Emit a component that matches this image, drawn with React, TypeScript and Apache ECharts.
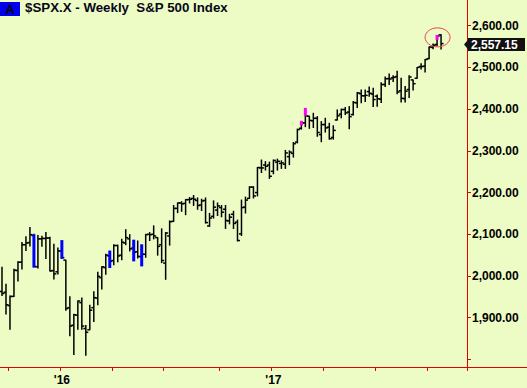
import React, { useEffect, useRef } from "react";
import * as echarts from "echarts";

// Weekly OHLC, week of 2015-09-14 .. week of 2017-10-23
const opens = [
  1963, 1961, 1929, 1951, 2013, 2033, 2075, 2080, 2097, 2022, 2089, 2090, 2091, 2013, 2010, 2060,
  2038, 1924, 1882, 1906, 1936, 1874, 1871, 1924, 1947, 1996, 2020, 2048, 2037, 2073, 2050, 2079,
  2089, 2067, 2058, 2046, 2052, 2100, 2100, 2092, 2075, 2031, 2096, 2131, 2162, 2175, 2174, 2183,
  2186, 2181, 2170, 2181, 2120, 2143, 2158, 2164, 2160, 2132, 2148, 2129, 2101, 2165, 2186, 2213,
  2200, 2259, 2266, 2266,
  2251, 2273, 2270, 2268, 2286, 2294, 2321, 2354, 2367, 2383, 2372, 2378, 2339, 2363, 2357, 2332,
  2374, 2388, 2399, 2393, 2387, 2415, 2437, 2432, 2442, 2436, 2431, 2424, 2459, 2473, 2475, 2478,
  2444, 2425, 2447, 2470, 2474, 2502, 2503, 2521, 2548, 2555, 2578,
];
const highs = [
  2021, 1980, 1952, 2016, 2034, 2080, 2094, 2116, 2100, 2097, 2095, 2104, 2093, 2076, 2067, 2081,
  2038, 1950, 1908, 1940, 1947, 1881, 1930, 1962, 2009, 2022, 2052, 2056, 2075, 2074, 2088, 2111,
  2099, 2084, 2084, 2064, 2100, 2104, 2120, 2092, 2113, 2104, 2132, 2169, 2175, 2178, 2183, 2188,
  2193, 2187, 2184, 2187, 2150, 2180, 2175, 2169, 2169, 2148, 2155, 2134, 2182, 2189, 2214, 2214,
  2260, 2278, 2274, 2273,
  2278, 2280, 2276, 2301, 2300, 2320, 2352, 2367, 2401, 2383, 2390, 2382, 2370, 2378, 2366, 2360,
  2398, 2400, 2404, 2406, 2418, 2440, 2446, 2446, 2453, 2450, 2434, 2463, 2477, 2484, 2480, 2491,
  2474, 2454, 2480, 2470, 2500, 2509, 2519, 2549, 2556, 2576, 2578,
];
const lows = [
  1953, 1909, 1872, 1951, 1988, 2017, 2061, 2072, 2022, 2019, 2071, 2042, 2012, 1993, 2005, 2043,
  1918, 1857, 1812, 1872, 1872, 1810, 1871, 1891, 1931, 1969, 2004, 2022, 2027, 2034, 2039, 2075,
  2060, 2039, 2043, 2025, 2045, 2085, 2089, 2050, 2032, 1992, 2074, 2131, 2152, 2155, 2147, 2175,
  2169, 2160, 2157, 2127, 2119, 2139, 2145, 2142, 2114, 2125, 2114, 2084, 2097, 2151, 2186, 2187,
  2192, 2248, 2254, 2234,
  2245, 2254, 2258, 2258, 2267, 2285, 2319, 2352, 2358, 2354, 2356, 2335, 2322, 2345, 2328, 2328,
  2374, 2379, 2387, 2353, 2386, 2404, 2415, 2418, 2431, 2406, 2407, 2416, 2454, 2459, 2466, 2437,
  2417, 2417, 2428, 2446, 2474, 2496, 2489, 2521, 2545, 2552, 2544,
];
const closes = [
  1958, 1931, 1951, 2014, 2033, 2075, 2079, 2099, 2023, 2089, 2090, 2091, 2012, 2005, 2060, 2044,
  1922, 1880, 1907, 1940, 1880, 1865, 1918, 1948, 1999, 2022, 2050, 2035, 2073, 2048, 2081, 2092,
  2065, 2057, 2047, 2052, 2099, 2099, 2096, 2071, 2037, 2103, 2130, 2162, 2175, 2173, 2183, 2184,
  2184, 2169, 2180, 2128, 2139, 2165, 2168, 2153, 2133, 2141, 2126, 2085, 2164, 2182, 2213, 2192,
  2260, 2259, 2263, 2239,
  2277, 2275, 2271, 2295, 2297, 2317, 2351, 2367, 2384, 2373, 2378, 2344, 2363, 2355, 2329, 2349,
  2384, 2399, 2391, 2382, 2416, 2439, 2432, 2433, 2438, 2423, 2425, 2459, 2473, 2472, 2476, 2441,
  2426, 2443, 2477, 2461, 2500, 2502, 2519, 2549, 2553, 2575, 2557.15,
];

// highlighted (signal) bars
const hlIdx = [8, 15, 27, 33, 35, 75, 76, 109];
const hlTop = [2100, 2086, 2061, 2087, 2076, 2372, 2403, 2578];
const hlBottom = [2020, 2041, 2019, 2035, 2023, 2361, 2384, 2566];
const hlColor = ["#0000FF", "#0000FF", "#0000FF", "#0000FF", "#0000FF", "#FF00FF", "#FF00FF", "#FF00FF"];

const padWeeks = 6;
const startDay = Date.UTC(2015, 8, 14);
const categories = Array.from({ length: opens.length + padWeeks }, (_, i) =>
  new Date(startDay + i * 7 * 86400000).toISOString().slice(0, 10)
);
const xTickIdx = [2, 15, 28, 41, 55, 68, 81, 94, 107];
const xLabelIdx = [15, 68];
const xLabelText = ["'16", "'17"];
const yTickVals = [1800, 1900, 2000, 2100, 2200, 2300, 2400, 2500, 2600];
const yLabelVals = [1900, 2000, 2100, 2200, 2300, 2400, 2500, 2600];
const lastPrice = 2557.15;
const circleCenter = [109, 2572];

const RED = "#E00000";
const BG = "#EDFCC5";
const FONT = "'Liberation Sans', Arial, sans-serif";

const fmt = (v: number) => {
  const [a, b] = v.toFixed(2).split(".");
  return a.replace(/\B(?=(\d{3})+(?!\d))/g, ",") + "." + b;
};

export default function App() {
  const ref = useRef<HTMLDivElement>(null);
  useEffect(() => {
    if (!ref.current) return;
    const chart = echarts.init(ref.current, null, { renderer: "svg" });
    const ohlc = opens.map((o, i) => [i, o, closes[i], lows[i], highs[i]]);
    const hl = hlIdx.map((idx, k) => [idx, hlTop[k], hlBottom[k]]);
    chart.setOption({
      animation: false,
      backgroundColor: BG,
      grid: { left: 0, right: 60, top: 0, bottom: 21, outerBoundsMode: "none" },
      title: {
        text: "$SPX.X - Weekly  S&P 500 Index",
        left: 25,
        top: 1,
        padding: 0,
        textStyle: { fontSize: 13.3, fontWeight: "bold", color: "#080818", fontFamily: FONT },
      },
      xAxis: {
        type: "category",
        data: categories,
        boundaryGap: true,
        axisLine: { show: true, lineStyle: { color: RED, width: 1 } },
        axisTick: {
          show: true,
          interval: (idx: number) => xTickIdx.includes(idx),
          length: 4,
          lineStyle: { color: RED, width: 1 },
        },
        axisLabel: {
          interval: (idx: number) => xLabelIdx.includes(idx),
          formatter: (_v: string, idx: number) => {
            const k = xLabelIdx.indexOf(idx);
            return k >= 0 ? xLabelText[k] : "";
          },
          color: "#000",
          fontWeight: "bold",
          fontSize: 12,
          fontFamily: FONT,
          margin: 7,
        },
        splitLine: { show: false },
      },
      yAxis: {
        type: "value",
        position: "right",
        min: 1781.8,
        max: 2661.6,
        axisLine: { show: true, lineStyle: { color: RED, width: 1 } },
        axisTick: { show: true, length: 4, lineStyle: { color: RED, width: 1 }, customValues: yTickVals },
        axisLabel: {
          customValues: yLabelVals,
          formatter: (v: number) => fmt(v),
          margin: 5,
          color: "#000",
          fontWeight: "bold",
          fontSize: 12,
          fontFamily: FONT,
        },
        splitLine: { show: false },
      },
      series: [
        {
          type: "custom",
          name: "SPX",
          data: ohlc,
          encode: { x: 0, y: [1, 2, 3, 4] },
          renderItem: (_p: any, api: any) => {
            const i = api.value(0);
            const o = api.coord([i, api.value(1)]);
            const c = api.coord([i, api.value(2)]);
            const l = api.coord([i, api.value(3)]);
            const h = api.coord([i, api.value(4)]);
            const x = h[0];
            const style = { stroke: "#000", lineWidth: 1.5 };
            return {
              type: "group",
              children: [
                { type: "line", shape: { x1: x, y1: h[1] - 0.5, x2: x, y2: l[1] + 0.5 }, style },
                { type: "line", shape: { x1: x - 2.5, y1: o[1], x2: x, y2: o[1] }, style },
                { type: "line", shape: { x1: x, y1: c[1], x2: x + 2.5, y2: c[1] }, style },
              ],
            };
          },
        },
        {
          type: "custom",
          name: "signal",
          data: hl,
          encode: { x: 0, y: [1, 2] },
          z: 3,
          renderItem: (p: any, api: any) => {
            const i = api.value(0);
            const t = api.coord([i, api.value(1)]);
            const b = api.coord([i, api.value(2)]);
            return {
              type: "rect",
              shape: { x: t[0] - 1.5, y: t[1], width: 3, height: b[1] - t[1] },
              style: { fill: hlColor[p.dataIndex] },
            };
          },
        },
      ],
    });

    const yp = chart.convertToPixel({ yAxisIndex: 0 }, lastPrice) as number;
    const cx = chart.convertToPixel({ xAxisIndex: 0 }, circleCenter[0]) as number;
    const cy = chart.convertToPixel({ yAxisIndex: 0 }, circleCenter[1]) as number;
    const axisX = 467;
    const axisY = 367;
    chart.setOption({
      graphic: [
        { type: "rect", shape: { x: 0, y: 2, width: 20, height: 14 }, style: { fill: "#0000F0" } },
        {
          type: "text",
          x: 10,
          y: 9.5,
          style: {
            text: "A",
            fill: "#000",
            fontSize: 13,
            fontWeight: "bold",
            fontFamily: FONT,
            align: "center",
            verticalAlign: "middle",
          },
        },
        { type: "line", shape: { x1: axisX, y1: axisY + 0.5, x2: 527, y2: axisY + 0.5 }, style: { stroke: RED, lineWidth: 1 } },
        {
          type: "ellipse",
          shape: { cx: cx + 0.5, cy, rx: 12.5, ry: 9.5 },
          style: { fill: "none", stroke: "#E04848", lineWidth: 1 },
          z: 10,
        },
        {
          type: "polygon",
          shape: { points: [[464, yp + 1], [469, yp - 5], [469, yp + 7]] },
          style: { fill: "#111" },
          z: 10,
        },
        {
          type: "rect",
          shape: { x: 468, y: yp - 5.5, width: 57, height: 13 },
          style: { fill: "#111" },
          z: 10,
        },
        {
          type: "text",
          x: 471,
          y: yp + 1,
          z: 11,
          style: {
            text: fmt(lastPrice),
            fill: "#fff",
            fontSize: 12,
            fontWeight: "bold",
            fontFamily: FONT,
            align: "left",
            verticalAlign: "middle",
          },
        },
      ],
    });
    return () => chart.dispose();
  }, []);
  return (
    <div
      ref={ref}
      style={{ position: "fixed", left: 0, top: 0, width: 527, height: 388, background: BG }}
    />
  );
}
